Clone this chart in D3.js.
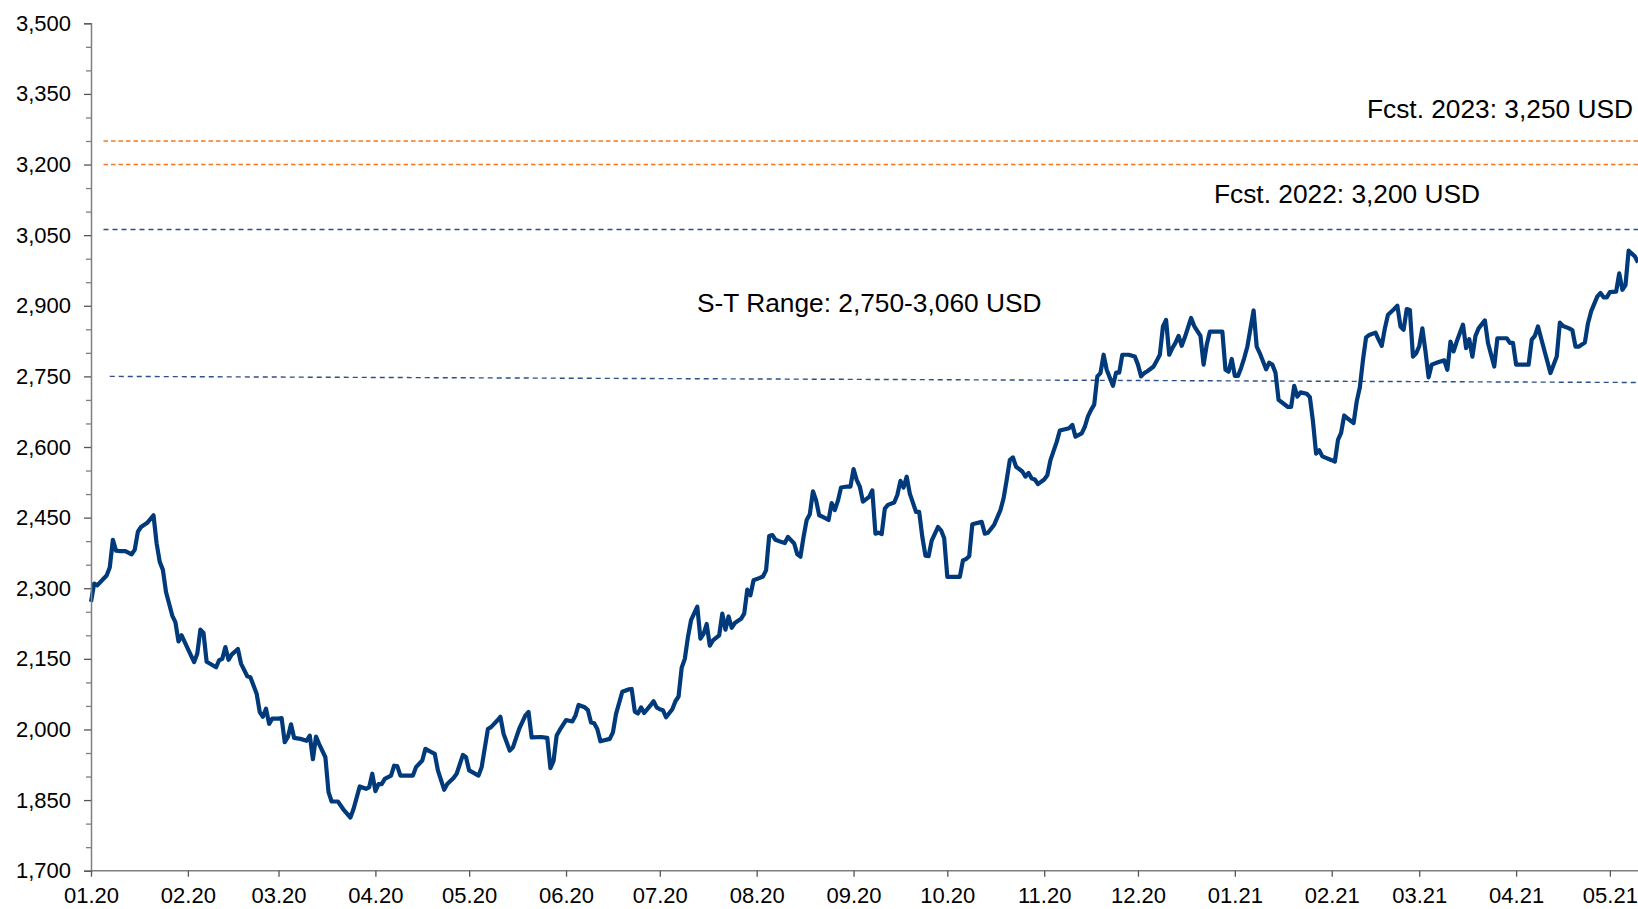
<!DOCTYPE html>
<html>
<head>
<meta charset="utf-8">
<script src="https://cdn.jsdelivr.net/npm/d3@7"></script>
<style>
  html, body { margin: 0; padding: 0; background: #fff; }
  svg { display: block; font-family: Arial, "Liberation Sans", sans-serif; }
</style>
</head>
<body>
<svg id="chart" width="1638" height="909"></svg>
<script>
// ---------------- DATA ----------------
const priceSeries = [
["2020-01-01",2271],["2020-01-02",2310],["2020-01-03",2306],["2020-01-05",2320],["2020-01-06",2327],["2020-01-07",2344],["2020-01-08",2403],["2020-01-09",2380],["2020-01-10",2379],["2020-01-12",2379],["2020-01-14",2372],["2020-01-15",2382],["2020-01-16",2420],["2020-01-17",2430],["2020-01-19",2439],["2020-01-21",2455],["2020-01-22",2395],["2020-01-23",2356],["2020-01-24",2339],["2020-01-25",2292],["2020-01-27",2242],["2020-01-28",2228],["2020-01-29",2187],["2020-01-30",2200],
["2020-02-01",2171],["2020-02-03",2143],["2020-02-04",2161],["2020-02-05",2212],["2020-02-06",2205],["2020-02-07",2144],["2020-02-08",2140],["2020-02-10",2132],["2020-02-11",2147],["2020-02-12",2150],["2020-02-13",2175],["2020-02-14",2148],["2020-02-15",2159],["2020-02-17",2171],["2020-02-18",2140],["2020-02-20",2113],["2020-02-21",2111],["2020-02-23",2076],["2020-02-24",2037],["2020-02-25",2027],["2020-02-26",2044],["2020-02-27",2012],["2020-02-28",2023],
["2020-03-01",2023],["2020-03-02",2024],["2020-03-03",1973],["2020-03-04",1984],["2020-03-05",2011],["2020-03-06",1982],["2020-03-08",1980],["2020-03-10",1976],["2020-03-11",1987],["2020-03-12",1937],["2020-03-13",1985],["2020-03-14",1969],["2020-03-16",1941],["2020-03-17",1867],["2020-03-18",1847],["2020-03-20",1847],["2020-03-22",1828],["2020-03-24",1813],["2020-03-25",1831],["2020-03-27",1879],["2020-03-29",1874],["2020-03-30",1877],["2020-03-31",1906],
["2020-04-01",1869],["2020-04-02",1884],["2020-04-03",1884],["2020-04-04",1895],["2020-04-06",1902],["2020-04-07",1923],["2020-04-08",1922],["2020-04-09",1902],["2020-04-13",1902],["2020-04-14",1920],["2020-04-16",1934],["2020-04-17",1959],["2020-04-18",1955],["2020-04-20",1948],["2020-04-21",1913],["2020-04-23",1872],["2020-04-24",1884],["2020-04-26",1897],["2020-04-27",1906],["2020-04-29",1946],["2020-04-30",1941],
["2020-05-01",1913],["2020-05-04",1902],["2020-05-05",1920],["2020-05-07",2001],["2020-05-08",2005],["2020-05-10",2019],["2020-05-11",2027],["2020-05-12",1991],["2020-05-14",1955],["2020-05-15",1962],["2020-05-17",2001],["2020-05-19",2030],["2020-05-20",2037],["2020-05-21",1983],["2020-05-24",1984],["2020-05-26",1982],["2020-05-27",1918],["2020-05-28",1933],["2020-05-29",1987],["2020-05-30",1999],
["2020-06-01",2020],["2020-06-03",2017],["2020-06-04",2029],["2020-06-05",2052],["2020-06-07",2047],["2020-06-08",2041],["2020-06-09",2015],["2020-06-10",2013],["2020-06-11",2001],["2020-06-12",1975],["2020-06-15",1980],["2020-06-16",1994],["2020-06-17",2033],["2020-06-19",2080],["2020-06-21",2085],["2020-06-22",2086],["2020-06-23",2038],["2020-06-24",2034],["2020-06-25",2047],["2020-06-26",2035],["2020-06-28",2051],["2020-06-29",2060],["2020-06-30",2047],
["2020-07-01",2043],["2020-07-02",2041],["2020-07-03",2026],["2020-07-05",2043],["2020-07-06",2060],["2020-07-07",2070],["2020-07-08",2131],["2020-07-09",2150],["2020-07-10",2196],["2020-07-11",2232],["2020-07-13",2261],["2020-07-14",2193],["2020-07-15",2203],["2020-07-16",2224],["2020-07-17",2178],["2020-07-18",2189],["2020-07-20",2200],["2020-07-21",2246],["2020-07-22",2212],["2020-07-23",2240],["2020-07-24",2216],["2020-07-25",2226],["2020-07-27",2235],["2020-07-28",2246],["2020-07-29",2297],["2020-07-30",2285],["2020-07-31",2317],
["2020-08-02",2322],["2020-08-03",2325],["2020-08-04",2338],["2020-08-05",2411],["2020-08-06",2413],["2020-08-07",2403],["2020-08-09",2398],["2020-08-10",2396],["2020-08-11",2409],["2020-08-13",2395],["2020-08-14",2372],["2020-08-15",2367],["2020-08-16",2409],["2020-08-17",2445],["2020-08-18",2457],["2020-08-19",2506],["2020-08-20",2487],["2020-08-21",2455],["2020-08-22",2452],["2020-08-24",2445],["2020-08-25",2481],["2020-08-26",2466],["2020-08-27",2486],["2020-08-28",2514],["2020-08-30",2516],["2020-08-31",2516],
["2020-09-01",2553],["2020-09-02",2530],["2020-09-03",2516],["2020-09-04",2484],["2020-09-06",2494],["2020-09-07",2508],["2020-09-08",2416],["2020-09-09",2418],["2020-09-10",2415],["2020-09-11",2469],["2020-09-12",2477],["2020-09-14",2482],["2020-09-15",2498],["2020-09-16",2528],["2020-09-17",2514],["2020-09-18",2537],["2020-09-19",2501],["2020-09-21",2462],["2020-09-22",2462],["2020-09-23",2409],["2020-09-24",2369],["2020-09-25",2368],["2020-09-26",2401],["2020-09-28",2430],["2020-09-29",2423],["2020-09-30",2406],
["2020-10-01",2324],["2020-10-05",2324],["2020-10-06",2359],["2020-10-07",2362],["2020-10-08",2368],["2020-10-09",2436],["2020-10-12",2441],["2020-10-13",2416],["2020-10-14",2418],["2020-10-16",2435],["2020-10-18",2466],["2020-10-19",2491],["2020-10-20",2530],["2020-10-21",2572],["2020-10-22",2578],["2020-10-23",2558],["2020-10-25",2548],["2020-10-26",2537],["2020-10-27",2545],["2020-10-28",2533],["2020-10-29",2531],["2020-10-30",2521],
["2020-11-01",2531],["2020-11-02",2540],["2020-11-03",2572],["2020-11-05",2611],["2020-11-06",2635],["2020-11-09",2640],["2020-11-10",2647],["2020-11-11",2622],["2020-11-13",2629],["2020-11-14",2643],["2020-11-15",2665],["2020-11-16",2679],["2020-11-17",2690],["2020-11-18",2750],["2020-11-19",2757],["2020-11-20",2796],["2020-11-21",2764],["2020-11-23",2730],["2020-11-24",2758],["2020-11-25",2758],["2020-11-26",2796],["2020-11-28",2796],["2020-11-30",2792],
["2020-12-01",2775],["2020-12-02",2750],["2020-12-03",2757],["2020-12-04",2761],["2020-12-06",2771],["2020-12-07",2783],["2020-12-08",2796],["2020-12-09",2856],["2020-12-10",2870],["2020-12-11",2796],["2020-12-12",2810],["2020-12-13",2821],["2020-12-14",2836],["2020-12-15",2815],["2020-12-16",2833],["2020-12-18",2874],["2020-12-19",2857],["2020-12-21",2836],["2020-12-22",2775],["2020-12-23",2817],["2020-12-24",2845],["2020-12-26",2845],["2020-12-28",2845],["2020-12-29",2764],["2020-12-30",2760],["2020-12-31",2787],
["2021-01-01",2751],["2021-01-02",2751],["2021-01-03",2768],["2021-01-04",2789],["2021-01-05",2813],["2021-01-07",2890],["2021-01-08",2813],["2021-01-09",2799],["2021-01-10",2782],["2021-01-11",2765],["2021-01-12",2779],["2021-01-13",2775],["2021-01-14",2758],["2021-01-15",2700],["2021-01-16",2695],["2021-01-18",2685],["2021-01-19",2685],["2021-01-20",2730],["2021-01-21",2707],["2021-01-22",2716],["2021-01-24",2713],["2021-01-25",2706],["2021-01-26",2654],["2021-01-27",2586],["2021-01-28",2593],["2021-01-29",2580],
["2021-02-01",2572],["2021-02-02",2569],["2021-02-03",2615],["2021-02-04",2630],["2021-02-05",2667],["2021-02-06",2661],["2021-02-08",2651],["2021-02-09",2697],["2021-02-10",2727],["2021-02-11",2785],["2021-02-12",2833],["2021-02-13",2838],["2021-02-15",2843],["2021-02-16",2828],["2021-02-17",2815],["2021-02-18",2852],["2021-02-19",2881],["2021-02-21",2893],["2021-02-22",2900],["2021-02-23",2856],["2021-02-24",2849],["2021-02-25",2893],["2021-02-26",2891],["2021-02-27",2792],["2021-02-28",2799],
["2021-03-01",2814],["2021-03-02",2852],["2021-03-03",2803],["2021-03-04",2748],["2021-03-05",2775],["2021-03-07",2780],["2021-03-09",2784],["2021-03-10",2764],["2021-03-11",2824],["2021-03-12",2803],["2021-03-13",2824],["2021-03-15",2860],["2021-03-16",2810],["2021-03-17",2829],["2021-03-18",2792],["2021-03-19",2836],["2021-03-20",2852],["2021-03-22",2869],["2021-03-23",2821],["2021-03-25",2771],["2021-03-26",2831],["2021-03-29",2831],["2021-03-30",2821],["2021-03-31",2821],
["2021-04-01",2775],["2021-04-05",2775],["2021-04-06",2828],["2021-04-07",2836],["2021-04-08",2856],["2021-04-10",2806],["2021-04-12",2757],["2021-04-14",2792],["2021-04-15",2864],["2021-04-16",2857],["2021-04-18",2852],["2021-04-19",2848],["2021-04-20",2813],["2021-04-21",2813],["2021-04-23",2822],["2021-04-24",2863],["2021-04-25",2888],["2021-04-27",2920],["2021-04-28",2927],["2021-04-29",2918],["2021-04-30",2918],
["2021-05-01",2929],["2021-05-03",2930],["2021-05-04",2969],["2021-05-05",2934],["2021-05-06",2944],["2021-05-07",3017],["2021-05-09",3005],["2021-05-10",2992]
];

const xDomain = ["2020-01-01", "2021-05-10"];
const yDomain = [1700, 3500];
const yMajorTicks = [1700, 1850, 2000, 2150, 2300, 2450, 2600, 2750, 2900, 3050, 3200, 3350, 3500];
const yMinorStep = 50;

// reference lines: [startDate, startValue, endDate, endValue]
const forecastLines = [
  ["2020-01-05", 3250, "2021-05-10", 3250],
  ["2020-01-05", 3200, "2021-05-10", 3200]
];
const rangeLines = [
  ["2020-01-05", 3062, "2021-05-10", 3062],
  ["2020-01-07", 2750, "2021-05-10", 2737]
];
const labels = ["Fcst. 2023: 3,250 USD", "Fcst. 2022: 3,200 USD", "S-T Range: 2,750-3,060 USD"];

// ---------------- CHART ----------------
const parse = d3.utcParse("%Y-%m-%d");
const svg = d3.select("#chart");

const x = d3.scaleUtc().domain(xDomain.map(parse)).range([91, 1638]);
const y = d3.scaleLinear().domain(yDomain).range([870.7, 23.3]);

const axisColor = "#7f7f7f";
const textColor = "#000";

// Reference lines
const lineGen = d3.line().x(d => x(d[0])).y(d => y(d[1]));
svg.append("g").selectAll("path").data(forecastLines).join("path")
  .attr("d", d => lineGen([[parse(d[0]), d[1]], [parse(d[2]), d[3]]]))
  .attr("fill", "none").attr("stroke", "#F47920").attr("stroke-width", 1.4)
  .attr("stroke-dasharray", "4.5,3");
svg.append("g").selectAll("path").data(rangeLines).join("path")
  .attr("d", d => lineGen([[parse(d[0]), d[1]], [parse(d[2]), d[3]]]))
  .attr("fill", "none").attr("stroke", "#2B4F86").attr("stroke-width", 1.4)
  .attr("stroke-dasharray", "5,4");

// Price line
const pts = priceSeries.map(d => [parse(d[0]), d[1]]);
svg.append("path")
  .datum(pts)
  .attr("d", lineGen)
  .attr("fill", "none")
  .attr("stroke", "#003A7A")
  .attr("stroke-width", 4.2)
  .attr("stroke-linejoin", "round")
  .attr("stroke-linecap", "butt");

// Y axis
const yAxisG = svg.append("g").attr("transform", "translate(91,0)");
const minorTicks = d3.range(yDomain[0], yDomain[1] + 1, yMinorStep).filter(v => !yMajorTicks.includes(v));
yAxisG.append("g").call(d3.axisLeft(y).tickValues(minorTicks).tickSize(5).tickFormat(""))
  .call(g => g.select(".domain").remove())
  .selectAll("line").attr("stroke", axisColor).attr("stroke-width", 1.3);
const yMajor = yAxisG.append("g").call(d3.axisLeft(y).tickValues(yMajorTicks).tickSize(7).tickPadding(13).tickFormat(d3.format(",")));
yMajor.select(".domain").attr("stroke", axisColor).attr("stroke-width", 1.5);
yMajor.selectAll(".tick line").attr("stroke", "#555").attr("stroke-width", 1.3);
yMajor.selectAll("text").attr("font-size", 22).attr("fill", textColor)
  .attr("font-family", "Arial, 'Liberation Sans', sans-serif");

// X axis
const xAxisG = svg.append("g").attr("transform", "translate(0,870.7)");
const xa = xAxisG.call(d3.axisBottom(x).ticks(d3.utcMonth.every(1)).tickSize(6).tickPadding(11).tickFormat(d3.utcFormat("%m.%y")));
xa.select(".domain").attr("stroke", axisColor).attr("stroke-width", 1.5)
  .attr("d", "M91,0H1638");
xa.selectAll(".tick line").attr("stroke", "#555").attr("stroke-width", 1.3);
xa.selectAll("text").attr("font-size", 22).attr("fill", textColor)
  .attr("font-family", "Arial, 'Liberation Sans', sans-serif");

// Annotations
const ann = svg.append("g").attr("font-size", 26.3).attr("fill", textColor);
ann.append("text").attr("x", 1633).attr("y", 118).attr("text-anchor", "end").text(labels[0]);
ann.append("text").attr("x", 1214).attr("y", 203).attr("text-anchor", "start").text(labels[1]);
ann.append("text").attr("x", 697).attr("y", 312).attr("text-anchor", "start").text(labels[2]);
</script>
</body>
</html>
